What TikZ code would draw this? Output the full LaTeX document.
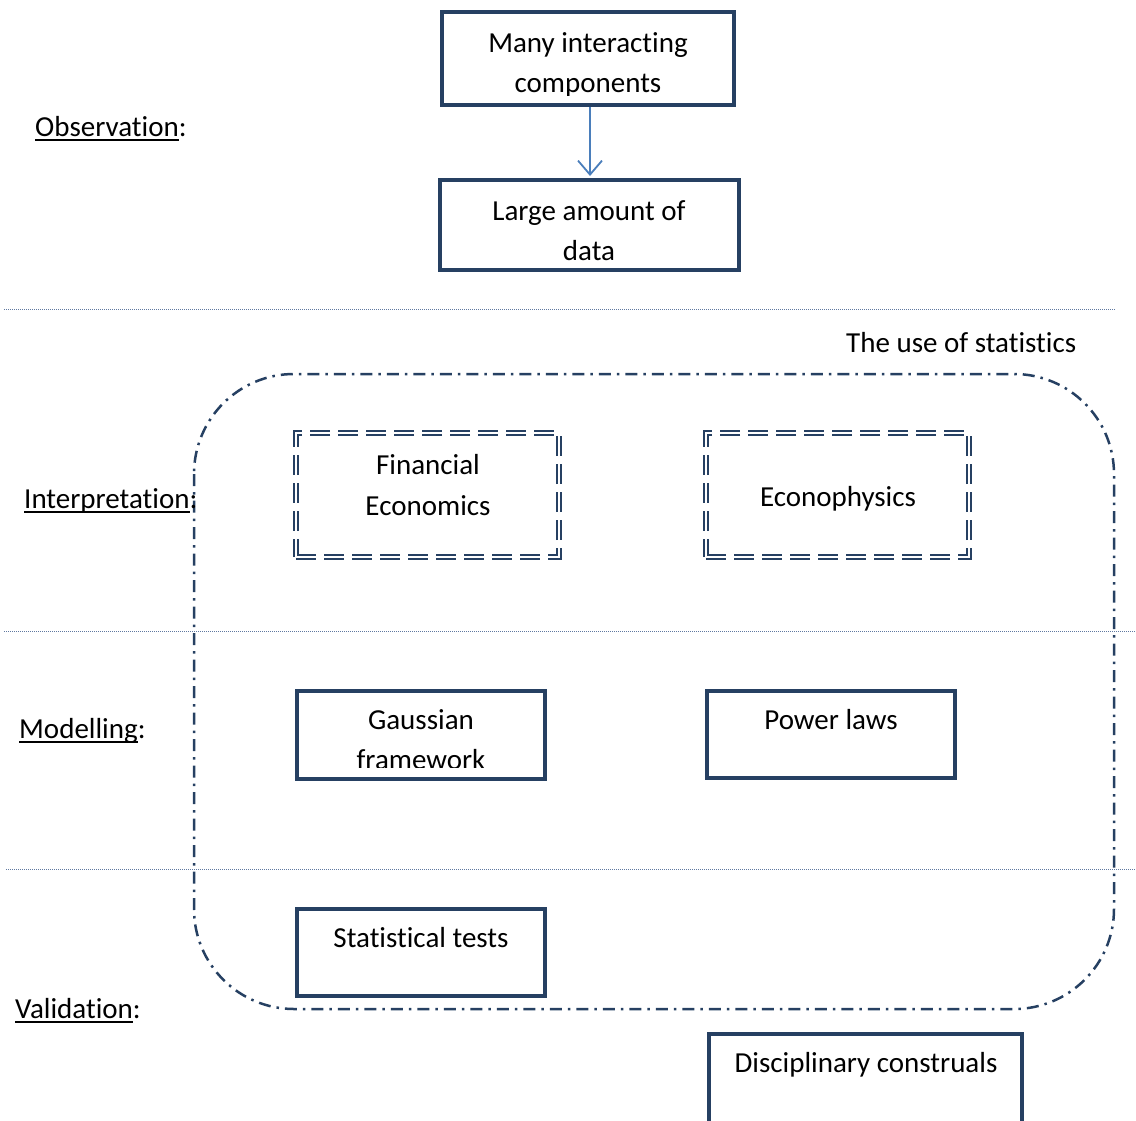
\documentclass[tikz,border=0pt]{standalone}
\usepackage{fontspec}
\setmainfont{Carlito}[Ligatures=NoCommon]
\usetikzlibrary{arrows.meta}
\definecolor{navy}{RGB}{38,64,98}
\definecolor{arrowblue}{RGB}{74,126,187}
\definecolor{sepcol}{RGB}{95,120,160}
\newcommand{\ulx}[1]{\setbox0\hbox{#1}\rlap{\rule[-5pt]{\wd0}{2.2pt}}\box0}
\begin{document}
\begin{tikzpicture}[x=1pt,y=-1pt,
  every node/.style={font=\fontsize{29}{40}\selectfont, inner sep=0pt},
  solidbox/.style={draw=navy, line width=4pt, fill=white},
  dblbox/.style={draw=navy, double=white, double distance=2pt, line width=1.7pt,
     dash pattern=on 20pt off 8pt},
  txt/.style={anchor=base, text=black},
  lbl/.style={anchor=base west, text=black},
  sepline/.style={draw=sepcol, line width=0.9pt, dash pattern=on 1pt off 1pt},
  group/.style={draw=navy, line width=2.5pt, rounded corners=100pt,
     dash pattern=on 12pt off 6pt on 2.5pt off 6pt},
  conn/.style={draw=arrowblue, line width=1.8pt, -{Straight Barb[length=14pt,width=24pt,line width=1.8pt]}}
]
\useasboundingbox (0,0) rectangle (1136,1120);

% separators
\coordinate (s1a) at (4,309); \coordinate (s1b) at (1115,309);
\coordinate (s2a) at (4,631); \coordinate (s2b) at (1136,631);
\coordinate (s3a) at (6,869); \coordinate (s3b) at (1136,869);
\draw[sepline] (s1a) -- (s1b);
\draw[sepline] (s2a) -- (s2b);
\draw[sepline] (s3a) -- (s3b);

% group rounded rectangle
\coordinate (g1) at (194,374); \coordinate (g2) at (1114,1009);
\draw[group] (g1) rectangle (g2);

% top boxes
\node[solidbox, minimum width=292pt, minimum height=93pt] (b1) at (588,58.5) {};
\node[solidbox, minimum width=299pt, minimum height=90pt] (b2) at (589,225) {};
\begin{scope}
\clip (446,16) rectangle (730,95);
\node[txt] (b1t1) at (588,52) {Many interacting};
\node[txt] (b1t2) at (588,92) {components};
\end{scope}
\node[txt] (b2t1) at (589,220) {Large amount of};
\node[txt] (b2t2) at (589,260) {data};
\draw[conn] (b1.south) ++(2,0) coordinate (a1) (a1) -- (590,176) coordinate (a2);

% labels left
\node[lbl] (lobs) at (35,136) {\ulx{Observation}:};
\node[lbl] (lint) at (24,508) {\ulx{Interpretation}:};
\node[lbl] (lmod) at (19,738) {\ulx{Modelling}:};
\node[lbl] (lval) at (15,1018) {\ulx{Validation}:};
\node[lbl] (luse) at (846,352) {The use of statistics};

% double dashed boxes
\node[dblbox, minimum width=263pt, minimum height=124pt] (fe) at (427.5,495) {};
\node[txt] (fet1) at (428,474) {Financial};
\node[txt] (fet2) at (428,515) {Economics};
\node[dblbox, minimum width=263pt, minimum height=124pt] (ep) at (837.5,495) {};
\node[txt] (ept) at (838,506) {Econophysics};

% modelling boxes
\node[solidbox, minimum width=248pt, minimum height=88pt] (gf) at (421,735) {};
\begin{scope}
\clip (301,695) rectangle (541,767);
\node[txt] (gft1) at (421,729) {Gaussian};
\node[txt] (gft2) at (421,769) {framework};
\end{scope}
\node[solidbox, minimum width=248pt, minimum height=87pt] (pl) at (831,734.5) {};
\node[txt] (plt) at (831,729) {Power laws};

% validation boxes
\node[solidbox, minimum width=248pt, minimum height=87pt] (st) at (421,952.5) {};
\node[txt] (stt) at (421,947) {Statistical tests};
\node[solidbox, minimum width=313pt, minimum height=92pt] (dc) at (865.5,1080) {};
\node[txt] (dct) at (866,1072) {Disciplinary construals};
\end{tikzpicture}
\end{document}
